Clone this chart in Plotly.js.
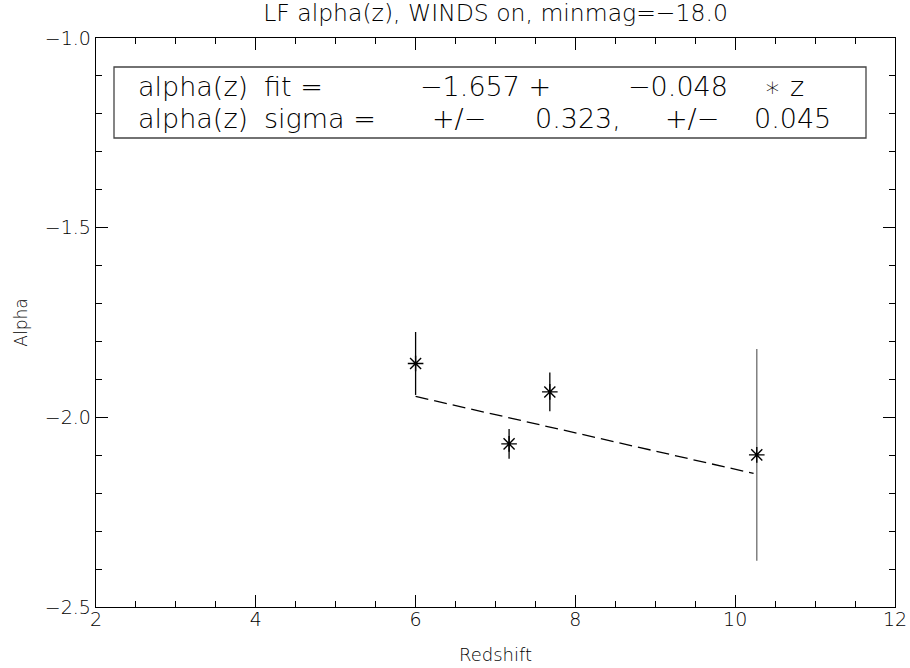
<!DOCTYPE html>
<html>
<head>
<meta charset="utf-8">
<script src="https://cdn.plot.ly/plotly-3.0.1.min.js"></script>
<style>html,body{margin:0;padding:0;background:#fff;}#chart{width:910px;height:668px;}</style>
</head>
<body>
<div id="chart"></div>
<script>
// Data
const redshift = [6.0, 7.17, 7.68, 10.27];
const alpha = [-1.858, -2.070, -1.933, -2.099];
const alphaErr = [0.083, 0.039, 0.051, 0.279];
const fitZ = [6.0, 10.23];
const fitAlpha = [-1.945, -2.148];
const xTicks = [2, 4, 6, 8, 10, 12];
const yTicks = [-1.0, -1.5, -2.0, -2.5];
const yTickText = ['\u22121.0', '\u22121.5', '\u22122.0', '\u22122.5'];
const titleText = 'LF alpha(z), WINDS on, minmag=\u221218.0';
const fitWords1 = ['alpha(z)', 'fit =', '\u22121.657 +', '\u22120.048', '\u2217', 'z'];
const fitWords2 = ['alpha(z)', 'sigma =', '+/\u2212', '0.323,', '+/\u2212', '0.045'];

const FONT = 'DejaVu Sans, Liberation Sans, sans-serif';

const W = 910, H = 668;
const L = 96, R = 895, T = 38, B = 607;
const px = x => (x - L) / (R - L);
const py = y => 1 - (y - T) / (B - T);

// left pixel positions of each text chunk in the annotation box (layout only)
const fitPos1 = [136, 262, 418, 626, 762, 788];
const fitPos2 = [136, 262, 430, 533, 663, 752];

const traces = [
  {
    x: fitZ, y: fitAlpha, mode: 'lines', type: 'scatter',
    line: {color: '#000', width: 1.3, dash: '13px,6px'},
    hoverinfo: 'skip', showlegend: false
  },
  {
    x: redshift.slice(0, 3), y: alpha.slice(0, 3), mode: 'markers', type: 'scatter',
    marker: {symbol: 'asterisk-open', size: 13, color: '#000', line: {color: '#000', width: 1.4}},
    error_y: {type: 'data', array: alphaErr.slice(0, 3), visible: true, color: '#000', thickness: 1.3, width: 0},
    showlegend: false
  },
  {
    x: redshift.slice(3), y: alpha.slice(3), mode: 'markers', type: 'scatter',
    marker: {symbol: 'asterisk-open', size: 13, color: '#000', line: {color: '#000', width: 1.4}},
    error_y: {type: 'data', array: alphaErr.slice(3), visible: true, color: '#808080', thickness: 1.5, width: 0},
    showlegend: false
  }
];

const axisCommon = {
  showgrid: false, zeroline: false, showline: true, linecolor: '#000', linewidth: 1.3,
  mirror: 'ticks', ticks: 'inside', tickcolor: '#000', tickwidth: 1.1, ticklen: 12,
  tickfont: {family: FONT, size: 19, color: '#000', weight: 300}
};

const annotations = [];
fitWords1.forEach((w, i) => annotations.push({
  text: w.replace(/ /g, '\u00A0'), xref: 'paper', yref: 'paper', x: px(fitPos1[i]), y: py(86),
  xanchor: 'left', yanchor: 'middle',
  showarrow: false, font: {family: FONT, size: 27, color: '#000', weight: 300}
}));
fitWords2.forEach((w, i) => annotations.push({
  text: w.replace(/ /g, '\u00A0'), xref: 'paper', yref: 'paper', x: px(fitPos2[i]), y: py(119),
  xanchor: 'left', yanchor: 'middle',
  showarrow: false, font: {family: FONT, size: 27, color: '#000', weight: 300}
}));

const layout = {
  width: W, height: H, autosize: false,
  margin: {l: L, r: W - R, t: T, b: H - B, pad: 0},
  paper_bgcolor: '#fff', plot_bgcolor: '#fff',
  font: {family: FONT, color: '#000'},
  title: {
    text: titleText, font: {family: FONT, size: 23.5, color: '#000', weight: 300},
    x: 0.5, xref: 'paper', y: 1 - 13 / H, yref: 'container', yanchor: 'middle'
  },
  xaxis: Object.assign({}, axisCommon, {
    range: [2, 12], tickvals: xTicks, ticktext: xTicks.map(String),
    minor: {dtick: 0.5, ticks: 'inside', ticklen: 6, tickcolor: '#000', tickwidth: 1, showgrid: false},
    title: {text: 'Redshift', font: {family: FONT, size: 18, color: '#000', weight: 300}, standoff: 19},
    ticklabelstandoff: -5
  }),
  yaxis: Object.assign({}, axisCommon, {
    range: [-2.5, -1.0], tickvals: yTicks, ticktext: yTickText,
    minor: {dtick: 0.1, ticks: 'inside', ticklen: 6, tickcolor: '#000', tickwidth: 1, showgrid: false},
    title: {text: 'Alpha', font: {family: FONT, size: 17, color: '#000', weight: 300}, standoff: 12},
    ticklabelstandoff: 0
  }),
  shapes: [{
    type: 'rect', xref: 'paper', yref: 'paper',
    x0: px(114), x1: px(866), y0: py(138), y1: py(67),
    line: {color: '#444', width: 1.3}, fillcolor: 'rgba(0,0,0,0)'
  }],
  annotations: annotations
};

Plotly.newPlot('chart', traces, layout, {displayModeBar: false, staticPlot: true});
</script>
</body>
</html>
